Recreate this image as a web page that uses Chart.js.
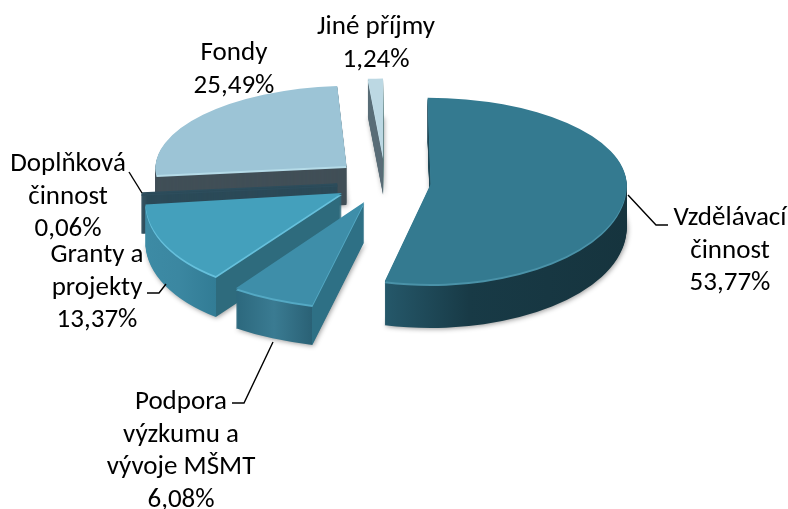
<!DOCTYPE html>
<html>
<head>
<meta charset="utf-8">
<style>
  html, body { margin: 0; padding: 0; background: #fff; }
  canvas { display: block; }
</style>
<script src="https://cdn.jsdelivr.net/npm/chart.js@4"></script>
</head>
<body>
<canvas id="chart" width="788" height="509"></canvas>
<script>
const categories = ["Vzdělávací činnost", "Podpora výzkumu a vývoje MŠMT", "Granty a projekty", "Doplňková činnost", "Fondy", "Jiné příjmy"];
const shares = [53.77, 6.08, 13.37, 0.06, 25.49, 1.24];

// look of the fake 3D pie, per slice
const topColors = ["#347a90", "#3e8ea9", "#44a0bc", "#2d4d5c", "#9cc4d6", "#bcd8e3"];
const rimColors = ["#4a92a8", "#54a9c4", "#66c0dc", "#2d4d5c", "#b5dbe8", "#c9e4ee"];
const outerWalls = [["#25586a", "#183a46", "#16343e"], ["#2c687d", "#3a7b92", "#2a6175"], ["#3d8ba5", "#3b87a1", "#327c95"], ["#2b4a58"], ["#414f57"], ["#5a6e78"]];
const cutWalls = ["#25586a", "#2e7085", "#2e6b7d", "#2b4a58", "#414f57", "#5a6e78"];
const explode = [46, 50, 50, 48, 50, 50];
const squashTop = [0.44, 0.5, 0.5, 0.42, 0.41, 0.4];
const squashBottom = [0.51, 0.54, 0.52, 0.42, 0.42, 0.42];
const stretchX = [1, 1.13, 1, 1, 0.975, 1];
const shearTop = [0.035, 0, 0, 0, -0.07, 0];
const shearBottom = [0, 0, -0.15, 0, 0, 0];
const depths = [44, 40, 41, 40, 39, 38];
const drawOrder = [5, 4, 3, 2, 1, 0];
const sliverIndex = 3;
const pieCenter = { x: 385, y: 182 };
const pieRadius = 196;

const labelLines = [["Vzdělávací", "činnost"], ["Podpora", "výzkumu a", "vývoje MŠMT"], ["Granty a", "projekty"], ["Doplňková", "činnost"], ["Fondy"], ["Jiné příjmy"]];
const labelSpots = [[730, 218], [181, 402], [97, 255], [68, 164], [234, 53], [376, 27]];
const leaders = [
  [[628, 195], [656, 225], [668, 225]],
  [[232, 403], [244, 403], [273, 342]],
  [[147, 293], [159, 293], [166, 284]],
  [[129, 172], [142, 193]]
];

function paintSlice(chart, arc, i, dy, fill) {
  const ctx = chart.ctx;
  const mid = (arc.startAngle + arc.endAngle) / 2;
  const sin = Math.sin(mid);
  const apexX = pieCenter.x + Math.cos(mid) * explode[i];
  const apexY = Math.round(pieCenter.y + sin * explode[i] * (sin > 0 ? 0.45 : 0.5) + dy);
  const saved = arc.options;
  arc.options = Object.assign({}, saved, { backgroundColor: fill, borderWidth: 0 });
  if (i === sliverIndex) {
    // 0,06 % is thinner than a pixel, keep it visible with an outline
    arc.options.borderWidth = 3;
    arc.options.borderColor = fill;
  }
  // upper and lower half get a different squash, the reference has perspective
  [[squashTop[i], shearTop[i], 0, apexY], [squashBottom[i], shearBottom[i], apexY, 509 - apexY]].forEach(function (part) {
    ctx.save();
    ctx.beginPath();
    ctx.rect(0, part[2], 788, part[3]);
    ctx.clip();
    ctx.translate(apexX, apexY);
    ctx.transform(stretchX[i], 0, part[1] * part[0], part[0], 0, 0);
    ctx.translate(-arc.x, -arc.y);
    arc.draw(ctx);
    ctx.restore();
  });
  arc.options = saved;
}

function wallFill(ctx, arc, i) {
  const stops = outerWalls[i];
  if (stops.length === 1) return stops[0];
  const grad = ctx.createLinearGradient(arc.x - pieRadius, 0, arc.x + pieRadius, 0);
  // outer wall runs from the slice's lower corner outwards, the cut face starts at the corner
  const cornerAngle = i === 0 ? arc.endAngle : arc.startAngle;
  const outerAngle = i === 0 ? arc.startAngle + 1.5 : arc.endAngle;
  const a = (Math.cos(cornerAngle) + 1) / 2;
  const b = (Math.cos(outerAngle) + 1) / 2;
  const lo = Math.max(0, Math.min(a, b));
  const hi = Math.min(1, Math.max(a, b));
  if (i === 0) {
    grad.addColorStop(0, stops[0]);
    grad.addColorStop(lo, stops[0]);
    grad.addColorStop(lo + (hi - lo) * 0.35, stops[1]);
    grad.addColorStop(1, stops[2]);
  } else {
    grad.addColorStop(0, stops[0]);
    grad.addColorStop(lo, stops[0]);
    grad.addColorStop((lo + hi) / 2, stops[1]);
    grad.addColorStop(hi, stops[2]);
    grad.addColorStop(Math.min(1, hi + 0.0001), cutWalls[i]);
    grad.addColorStop(1, cutWalls[i]);
  }
  return grad;
}

const pie3d = {
  id: "pie3d",
  beforeDatasetDraw(chart) {
    const ctx = chart.ctx;
    const arcs = chart.getDatasetMeta(0).data;
    drawOrder.forEach(function (i) {
      const arc = arcs[i];
      const wall = wallFill(ctx, arc, i);
      for (let d = depths[i]; d >= 1; d--) {
        ctx.save();
        if (d === depths[i] && i !== sliverIndex) {
          ctx.shadowColor = "rgba(0,0,0,0.4)";
          ctx.shadowBlur = 5;
          ctx.shadowOffsetX = 1;
          ctx.shadowOffsetY = 1;
        }
        paintSlice(chart, arc, i, d, wall);
        ctx.restore();
      }
      paintSlice(chart, arc, i, 1.5, rimColors[i]);
      paintSlice(chart, arc, i, 0, topColors[i]);
    });
    return false;
  },
  afterDraw(chart) {
    const ctx = chart.ctx;
    ctx.save();
    ctx.strokeStyle = "#000";
    ctx.lineWidth = 1.4;
    leaders.forEach(function (pts) {
      ctx.beginPath();
      pts.forEach(function (p, k) { k ? ctx.lineTo(p[0], p[1]) : ctx.moveTo(p[0], p[1]); });
      ctx.stroke();
    });
    ctx.fillStyle = "#000";
    ctx.font = "27px Carlito, Calibri, Lato, sans-serif";
    ctx.textAlign = "center";
    ctx.textBaseline = "middle";
    shares.forEach(function (v, i) {
      const lines = labelLines[i].concat(v.toFixed(2).replace(".", ",") + "%");
      lines.forEach(function (txt, k) {
        ctx.fillText(txt, labelSpots[i][0], labelSpots[i][1] + k * 32.8);
      });
    });
    ctx.restore();
  }
};

new Chart(document.getElementById("chart").getContext("2d"), {
  type: "pie",
  data: {
    labels: categories,
    datasets: [{ data: shares, backgroundColor: topColors, borderWidth: 0 }]
  },
  options: {
    responsive: false,
    animation: false,
    radius: pieRadius,
    plugins: { legend: { display: false }, tooltip: { enabled: false } }
  },
  plugins: [pie3d]
});
</script>
</body>
</html>
